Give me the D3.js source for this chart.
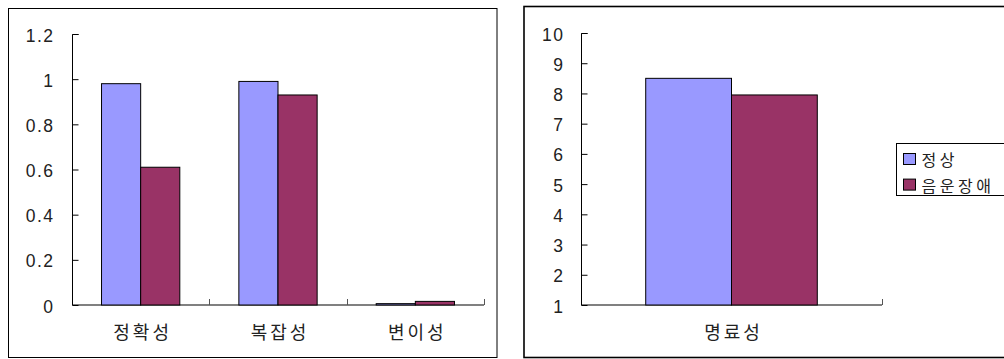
<!DOCTYPE html>
<html><head><meta charset="utf-8">
<script src="https://cdn.jsdelivr.net/npm/d3@7"></script>
<style>
html,body{margin:0;padding:0;background:#fff;overflow:hidden;}
svg{display:block;}
.num{font-family:"Liberation Sans",Arial,sans-serif;font-size:17.5px;fill:#222;letter-spacing:1.5px;}
.kr{font-family:"Noto Sans CJK KR","Noto Sans",sans-serif;fill:#222;}
</style></head>
<body>
<script>
// ---- data ----
const series = ["정상", "음운장애"];
const colors = ["#9999FF", "#993366"];
const leftCategories = ["정확성", "복잡성", "변이성"];
const leftNormal = [0.98, 0.99, 0.006];
const leftDisorder = [0.61, 0.93, 0.016];
const leftTicks = [0, 0.2, 0.4, 0.6, 0.8, 1, 1.2];
const rightCategories = ["명료성"];
const rightNormal = [8.5];
const rightDisorder = [7.95];
const rightTicks = [1, 2, 3, 4, 5, 6, 7, 8, 9, 10];

const svg = d3.select("body").append("svg").attr("width", 1004).attr("height", 359);

// panel borders
svg.append("rect").attr("x", 8.5).attr("y", 8.5).attr("width", 488.5).attr("height", 349)
  .attr("fill", "none").attr("stroke", "#000").attr("stroke-width", 1);
svg.append("rect").attr("x", 524).attr("y", 6.5).attr("width", 500).attr("height", 351)
  .attr("fill", "none").attr("stroke", "#000").attr("stroke-width", 1.6);

function drawChart(cfg) {
  const g = svg.append("g");
  const y = d3.scaleLinear().domain(cfg.yDomain).range([cfg.y0, cfg.y1]);
  const x0 = d3.scaleBand().domain(cfg.categories).range([cfg.xL, cfg.xR]).padding(0);
  const bw = x0.bandwidth();
  const x1 = d3.scaleBand().domain(series).range([bw * 0.215, bw * 0.785]).padding(0);

  // x axis line (gray)
  g.append("line").attr("x1", cfg.xL).attr("x2", cfg.xR).attr("y1", cfg.y0).attr("y2", cfg.y0)
    .attr("stroke", "#808080").attr("stroke-width", 2);
  // x ticks at band boundaries (upward)
  const bounds = cfg.categories.map(c => x0(c) + bw);
  g.selectAll(".xt").data(bounds).enter().append("line")
    .attr("x1", d => Math.round(d) + 0.5).attr("x2", d => Math.round(d) + 0.5)
    .attr("y1", cfg.y0 - 6).attr("y2", cfg.y0)
    .attr("stroke", "#555").attr("stroke-width", 1);

  // bars
  const rows = cfg.categories.map((c, i) => ({ c, vals: [cfg.s1[i], cfg.s2[i]] }));
  const grp = g.selectAll(".grp").data(rows).enter().append("g")
    .attr("transform", d => `translate(${x0(d.c)},0)`);
  grp.selectAll("rect").data(d => d.vals.map((v, k) => ({ v, k }))).enter().append("rect")
    .attr("x", d => x1(series[d.k]))
    .attr("width", x1.bandwidth())
    .attr("y", d => y(d.v))
    .attr("height", d => cfg.y0 - y(d.v))
    .attr("fill", d => colors[d.k])
    .attr("stroke", "#000").attr("stroke-width", 1);

  // y axis
  const yAxis = d3.axisRight(y).tickValues(cfg.ticks).tickSize(6).tickFormat("");
  const ya = g.append("g").attr("transform", `translate(${cfg.xL + 0.5},0)`).call(yAxis);
  ya.select(".domain").attr("stroke", "#000").attr("d", `M6,${cfg.y1 + 0.5}H0V${cfg.y0}`);
  ya.selectAll(".tick line").attr("stroke", "#000");
  // y labels
  g.selectAll(".yl").data(cfg.ticks).enter().append("text").attr("class", "num")
    .attr("x", cfg.labelX).attr("y", d => y(d) + 7.5)
    .attr("text-anchor", "end").text(d => d3.format("")(d));

  // category labels
  g.selectAll(".cl").data(cfg.categories).enter().append("text").attr("class", "kr")
    .attr("x", d => x0(d) + bw / 2 + 2).attr("y", 338.5)
    .attr("text-anchor", "middle").style("font-size", "18px").style("letter-spacing", "3px")
    .text(d => d);
}

drawChart({ categories: leftCategories, s1: leftNormal, s2: leftDisorder, ticks: leftTicks,
  yDomain: [0, 1.2], y0: 305, y1: 34, xL: 72, xR: 484, labelX: 54.5 });
drawChart({ categories: rightCategories, s1: rightNormal, s2: rightDisorder, ticks: rightTicks,
  yDomain: [1, 10], y0: 305, y1: 33, xL: 581, xR: 882, labelX: 564.5 });

// legend
const lg = svg.append("g");
lg.append("rect").attr("x", 896.5).attr("y", 143.5).attr("width", 120).attr("height", 52)
  .attr("fill", "#fff").attr("stroke", "#000").attr("stroke-width", 1);
const li = lg.selectAll(".li").data(series).enter().append("g")
  .attr("transform", (d, i) => `translate(0,${i * 25.6})`);
li.append("rect").attr("x", 903.5).attr("y", 153.5).attr("width", 12).attr("height", 11)
  .attr("fill", (d, i) => colors[i]).attr("stroke", "#000").attr("stroke-width", 1);
li.append("text").attr("class", "kr").attr("x", 921.5).attr("y", 166)
  .style("font-size", "16px").style("letter-spacing", "3.5px").text(d => d);
</script>
</body></html>
